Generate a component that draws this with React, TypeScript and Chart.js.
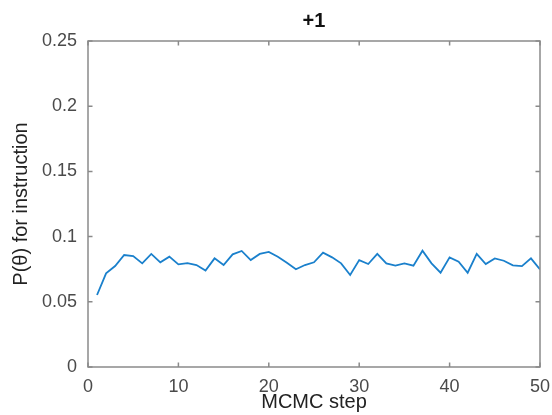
import React, { useEffect, useRef } from "react";
import { Chart, registerables } from "chart.js";

Chart.register(...registerables);

const chartTitle = "+1";
const xAxisLabel = "MCMC step";
const yAxisLabel = "P(\u03B8) for instruction";

const steps = [
  1, 2, 3, 4, 5, 6, 7, 8, 9, 10, 11, 12, 13, 14, 15, 16, 17, 18, 19, 20, 21, 22, 23, 24, 25,
  26, 27, 28, 29, 30, 31, 32, 33, 34, 35, 36, 37, 38, 39, 40, 41, 42, 43, 44, 45, 46, 47, 48, 49, 50,
];

const probValues = [
  0.0552, 0.0718, 0.0774, 0.0859, 0.0851, 0.0795, 0.0867, 0.0803, 0.0846, 0.0787,
  0.0797, 0.0782, 0.0739, 0.0833, 0.0782, 0.0864, 0.089, 0.082, 0.0867, 0.0882,
  0.0846, 0.08, 0.0749, 0.0782, 0.0803, 0.0877, 0.0841, 0.0795, 0.0706, 0.082,
  0.079, 0.0867, 0.0795, 0.0777, 0.0795, 0.0777, 0.0892, 0.0795, 0.0723, 0.0841,
  0.0808, 0.0723, 0.0867, 0.079, 0.0833, 0.0815, 0.078, 0.0774, 0.0833, 0.0749,
];

const xTickValues = [0, 10, 20, 30, 40, 50];
const yTickValues = [0, 0.05, 0.1, 0.15, 0.2, 0.25];

const FONT = "'Liberation Sans', Arial, Helvetica, sans-serif";
const AXIS_COLOR = "#8a8a8a";
const TEXT_COLOR = "#4a4a4a";

const boxPlugin = {
  id: "matlabBox",
  afterDraw(chart: any) {
    const { ctx, chartArea } = chart;
    const { left, right, top, bottom } = chartArea;
    const xs = chart.scales.x;
    const ys = chart.scales.y;
    const tl = 4.5;
    ctx.save();
    ctx.strokeStyle = AXIS_COLOR;
    ctx.lineWidth = 1.5;
    ctx.beginPath();
    ctx.rect(left, top, right - left, bottom - top);
    ctx.stroke();
    ctx.beginPath();
    xs.ticks.forEach((t: any) => {
      const px = xs.getPixelForValue(t.value);
      ctx.moveTo(px, bottom);
      ctx.lineTo(px, bottom - tl);
      ctx.moveTo(px, top);
      ctx.lineTo(px, top + tl);
    });
    ys.ticks.forEach((t: any) => {
      const py = ys.getPixelForValue(t.value);
      ctx.moveTo(left, py);
      ctx.lineTo(left + tl, py);
      ctx.moveTo(right, py);
      ctx.lineTo(right - tl, py);
    });
    ctx.stroke();
    // title centred over the axes
    ctx.fillStyle = "#111";
    ctx.font = `bold 20px ${FONT}`;
    ctx.textAlign = "center";
    ctx.textBaseline = "alphabetic";
    ctx.fillText(chartTitle, (left + right) / 2, 26.5);
    ctx.restore();
  },
};

export default function App() {
  const ref = useRef<HTMLCanvasElement | null>(null);

  useEffect(() => {
    if (!ref.current) return;
    const chart = new Chart(ref.current, {
      type: "line",
      data: {
        datasets: [
          {
            data: steps.map((s, i) => ({ x: s, y: probValues[i] })),
            borderColor: "#1a80cc",
            borderWidth: 1.8,
            pointRadius: 0,
            tension: 0,
            fill: false,
          },
        ],
      },
      options: {
        animation: false,
        responsive: false,
        maintainAspectRatio: false,
        layout: { padding: { left: 0, right: 12, top: 41, bottom: 0 } },
        plugins: {
          legend: { display: false },
          tooltip: { enabled: false },
          title: { display: false },
        },
        scales: {
          x: {
            type: "linear",
            min: 0,
            max: 50,
            afterBuildTicks: (s: any) => {
              s.ticks = xTickValues.map((v) => ({ value: v }));
            },
            afterFit: (s: any) => {
              s.height = 48;
              s.paddingLeft = 0;
              s.paddingRight = 0;
            },
            grid: { display: false, drawTicks: false },
            border: { display: false },
            ticks: {
              color: TEXT_COLOR,
              font: { family: FONT, size: 18 },
              padding: 9,
              maxRotation: 0,
              callback: (v: any) => String(v),
            },
            title: {
              display: true,
              text: xAxisLabel,
              color: "#222",
              font: { family: FONT, size: 20 },
              padding: { top: 0, bottom: 1 },
            },
          },
          y: {
            type: "linear",
            min: 0,
            max: 0.25,
            afterBuildTicks: (s: any) => {
              s.ticks = yTickValues.map((v) => ({ value: v }));
            },
            afterFit: (s: any) => {
              s.width = 88;
              s.paddingTop = 0;
              s.paddingBottom = 0;
            },
            grid: { display: false, drawTicks: false },
            border: { display: false },
            ticks: {
              color: TEXT_COLOR,
              font: { family: FONT, size: 18 },
              padding: 11,
              callback: (v: any) => String(+Number(v).toFixed(2)),
            },
            title: {
              display: true,
              text: yAxisLabel,
              color: "#222",
              font: { family: FONT, size: 20 },
              padding: { top: 9, bottom: 0 },
            },
          },
        },
      },
      plugins: [boxPlugin],
    });
    return () => chart.destroy();
  }, []);

  return (
    <div style={{ position: "absolute", left: 0, top: 0, width: 552, height: 415, background: "#fff" }}>
      <canvas ref={ref} width={552} height={415} style={{ width: 552, height: 415, display: "block" }} />
    </div>
  );
}
